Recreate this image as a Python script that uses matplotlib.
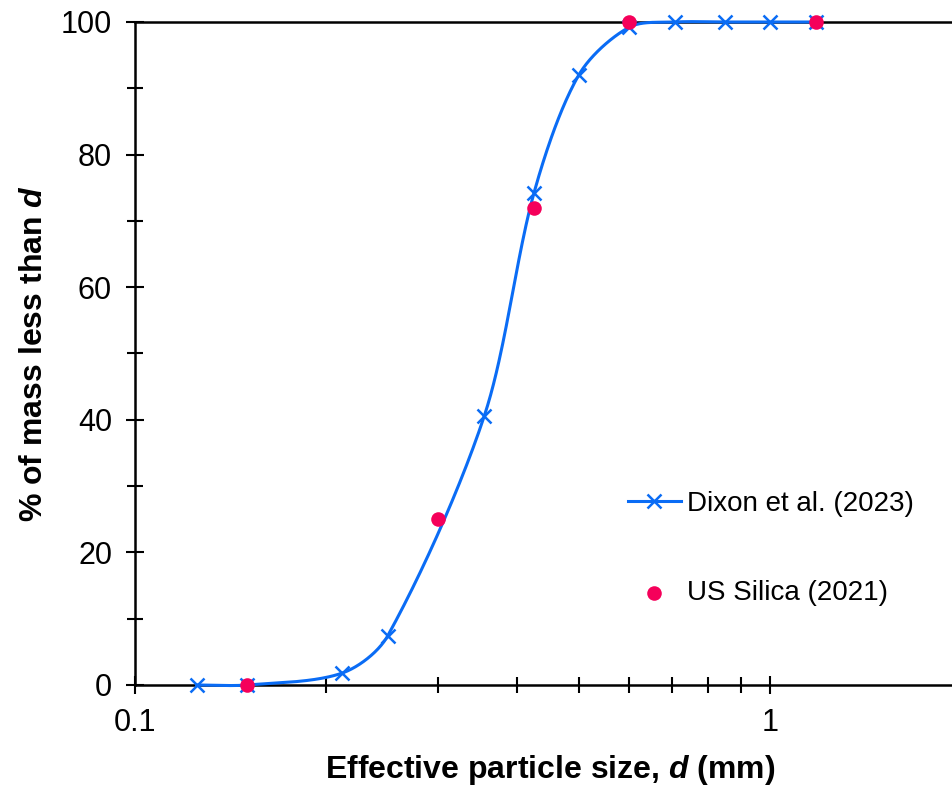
import numpy as np
import matplotlib
matplotlib.use("Agg")
import matplotlib.pyplot as plt
from matplotlib.ticker import FixedLocator, NullFormatter, FixedFormatter

plt.rcParams['font.family'] = ['Liberation Sans', 'DejaVu Sans']
plt.rcParams['mathtext.fontset'] = 'custom'
plt.rcParams['mathtext.it'] = 'Liberation Sans:bold:italic'
plt.rcParams['mathtext.rm'] = 'Liberation Sans:bold'

# Data
dixon_d = [0.125, 0.15, 0.212, 0.25, 0.355, 0.425, 0.5, 0.6, 0.71, 0.85, 1.0, 1.18]
dixon_pct = [0.0, 0.0, 1.8, 7.4, 40.6, 74.2, 92.0, 99.2, 100.0, 100.0, 100.0, 100.0]
silica_d = [0.15, 0.3, 0.425, 0.6, 1.18]
silica_pct = [0.0, 25.0, 72.0, 100.0, 100.0]

x_ticks = [0.1, 1]
x_tick_labels = ['0.1', '1']
y_ticks = [0, 20, 40, 60, 80, 100]

blue = '#0A6CF5'
red = '#F5005A'

W, H = 953, 790
left_px, right_px, top_px, bot_px = 135, 961, 22, 685


def smooth(xs, ys, n=40, k=0.3):
    # Bezier smoothing in screen-like space (log-x, linear-y scaled to pixels)
    sxs = (right_px - left_px) / np.log10(20.0)
    sys_ = (bot_px - top_px) / 100.0
    P = np.column_stack([np.log10(np.asarray(xs, float)) * sxs, np.asarray(ys, float) * sys_])
    m = len(P)
    T = []
    for i in range(m):
        a = P[i - 1] if i > 0 else P[i]
        b = P[i + 1] if i + 1 < m else P[i]
        d = b - a
        T.append(d / np.linalg.norm(d))
    out = []
    for i in range(m - 1):
        p0, p3 = P[i], P[i + 1]
        L = np.linalg.norm(p3 - p0)
        c1 = p0 + T[i] * L * k
        c2 = p3 - T[i + 1] * L * k
        t = np.linspace(0, 1, n)[:, None]
        seg = ((1 - t) ** 3) * p0 + 3 * ((1 - t) ** 2) * t * c1 + 3 * (1 - t) * t ** 2 * c2 + t ** 3 * p3
        out.append(seg if i == 0 else seg[1:])
    out = np.vstack(out)
    return 10 ** (out[:, 0] / sxs), out[:, 1] / sys_


fig = plt.figure(figsize=(W / 100, H / 100), dpi=100)
ax = fig.add_axes([left_px / W, (H - bot_px) / H, (right_px - left_px) / W, (bot_px - top_px) / H])

sx, sy = smooth(dixon_d, dixon_pct)
ax.plot(sx, sy, color=blue, lw=2.2, zorder=3, clip_on=False)
ax.plot(dixon_d, dixon_pct, ls='none', marker='x', ms=10, mew=1.8, color=blue, zorder=4, clip_on=False)
h1, = ax.plot([], [], color=blue, lw=2.2, marker='x', ms=10, mew=1.8, label='Dixon et al. (2023)')
h2 = ax.scatter(silica_d, silica_pct, s=110, color=red, zorder=5, clip_on=False, linewidths=0,
                label='US Silica (2021)')

ax.set_xscale('log')
ax.set_xlim(0.1, 2)
ax.set_ylim(0, 100)

ax.xaxis.set_major_locator(FixedLocator(x_ticks))
ax.xaxis.set_major_formatter(FixedFormatter(x_tick_labels))
ax.xaxis.set_minor_locator(FixedLocator([0.2, 0.3, 0.4, 0.5, 0.6, 0.7, 0.8, 0.9]))
ax.xaxis.set_minor_formatter(NullFormatter())
ax.yaxis.set_major_locator(FixedLocator(y_ticks))
ax.yaxis.set_minor_locator(FixedLocator([10, 30, 50, 70, 90]))

ax.tick_params(which='major', direction='inout', length=13, width=1.5, labelsize=22, pad=10)
ax.tick_params(which='minor', direction='inout', length=11, width=1.5)

for s in ['left', 'bottom', 'top']:
    ax.spines[s].set_linewidth(1.8)
ax.spines['right'].set_visible(False)

fig.text(550 / W, (H - 778) / H, 'Effective particle size, $d$ (mm)', fontsize=23,
         fontweight='bold', ha='center', va='baseline')
fig.text(42 / W, (H - 354) / H, '% of mass less than $d$', fontsize=23, fontweight='bold',
         ha='center', va='baseline', rotation=90, rotation_mode='anchor')

leg = ax.legend(handles=[h1, h2], loc='center left', bbox_to_anchor=(628 / W, (H - 548.5) / H),
                bbox_transform=fig.transFigure, frameon=False, fontsize=20, handlelength=1.9,
                handletextpad=0.22, labelspacing=2.3, borderpad=0, borderaxespad=0)

fig.savefig('out.png', dpi=100)
